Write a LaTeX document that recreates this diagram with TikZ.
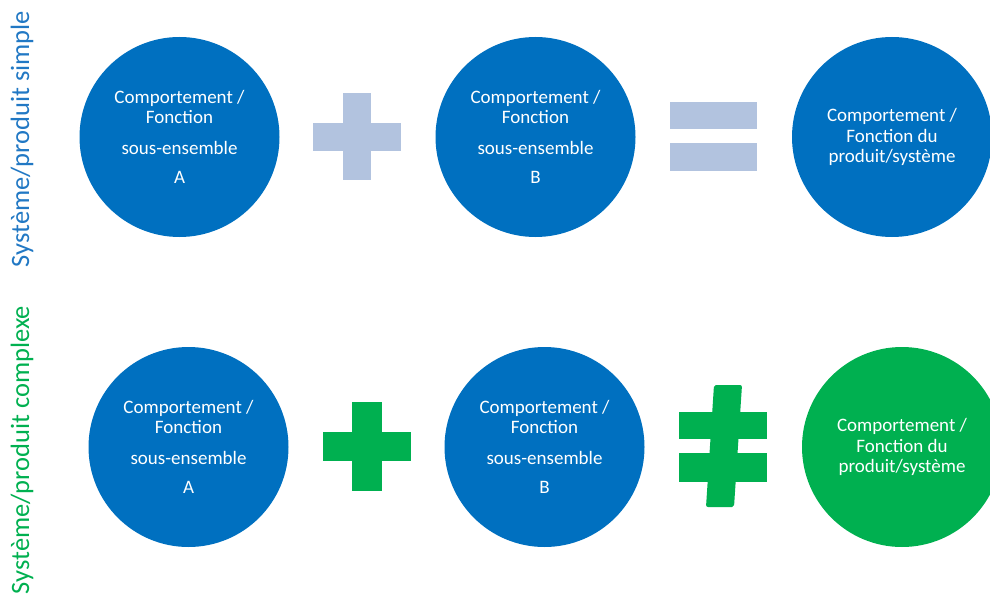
\documentclass[tikz,border=0pt]{standalone}
\usepackage{fontspec}
\setmainfont{Carlito}
\usepackage{tikz}
\usetikzlibrary{positioning}
\definecolor{discblue}{HTML}{0070C0}
\definecolor{discgreen}{HTML}{00B050}
\definecolor{signgray}{HTML}{B2C3DF}
\definecolor{labelblue}{HTML}{2178C4}
\tikzset{
	bluedisc/.style={
			circle,
			draw=none,
			fill=discblue,
			text=white,
			minimum size=200pt,
			inner sep=0pt,
			align=center,
			font=\fontsize{19}{20.5}\selectfont
		},
	greendisc/.style={
			bluedisc,
			fill=discgreen
		},
	rowlabel/.style={
			rotate=90,
			anchor=base,
			inner sep=0pt,
			font=\fontsize{26.5}{28}\selectfont
		}
}

\begin{document}
\begin{tikzpicture}[x=1pt, y=-1pt]
\useasboundingbox (0,0) rectangle (990,596);
\clip (0,0) rectangle (990,596);

% row labels
\node[rowlabel, text=labelblue] (simplelabel) at (29,139) {Système/produit simple};
\node[rowlabel, text=discgreen] (complexlabel) at (29,450) {Système/produit complexe};

% simple product
\node[bluedisc] (simpleA) at (179.5,137) {Comportement /\\Fonction\\[10pt]sous-ensemble\\[9pt]A};
\node[bluedisc] (simpleB) at (535.5,137) {Comportement /\\Fonction\\[10pt]sous-ensemble\\[9pt]B};
\node[bluedisc] (simpleC) at (892,137) {Comportement /\\Fonction du\\produit/système};

\fill[signgray] (313,123) rectangle (401,151);
\fill[signgray] (343,93) rectangle (371,180);
\fill[signgray] (670,102) rectangle (757,129);
\fill[signgray] (670,143) rectangle (757,171);

% complex product
\node[bluedisc] (complexA) at (188.5,447) {Comportement /\\Fonction\\[10pt]sous-ensemble\\[9pt]A};
\node[bluedisc] (complexB) at (544.5,447) {Comportement /\\Fonction\\[10pt]sous-ensemble\\[9pt]B};
\node[greendisc] (complexC) at (902,447) {Comportement /\\Fonction du\\produit/système};

\fill[discgreen] (323,432) rectangle (411,461);
\fill[discgreen] (352,402) rectangle (382,491);
\fill[discgreen] (679,412) rectangle (767,439);
\fill[discgreen] (679,453) rectangle (767,482);
\fill[discgreen, rounded corners=2pt] (714,385) -- (742,385) -- (734,507) -- (706,507) -- cycle;
\end{tikzpicture}
\end{document}
